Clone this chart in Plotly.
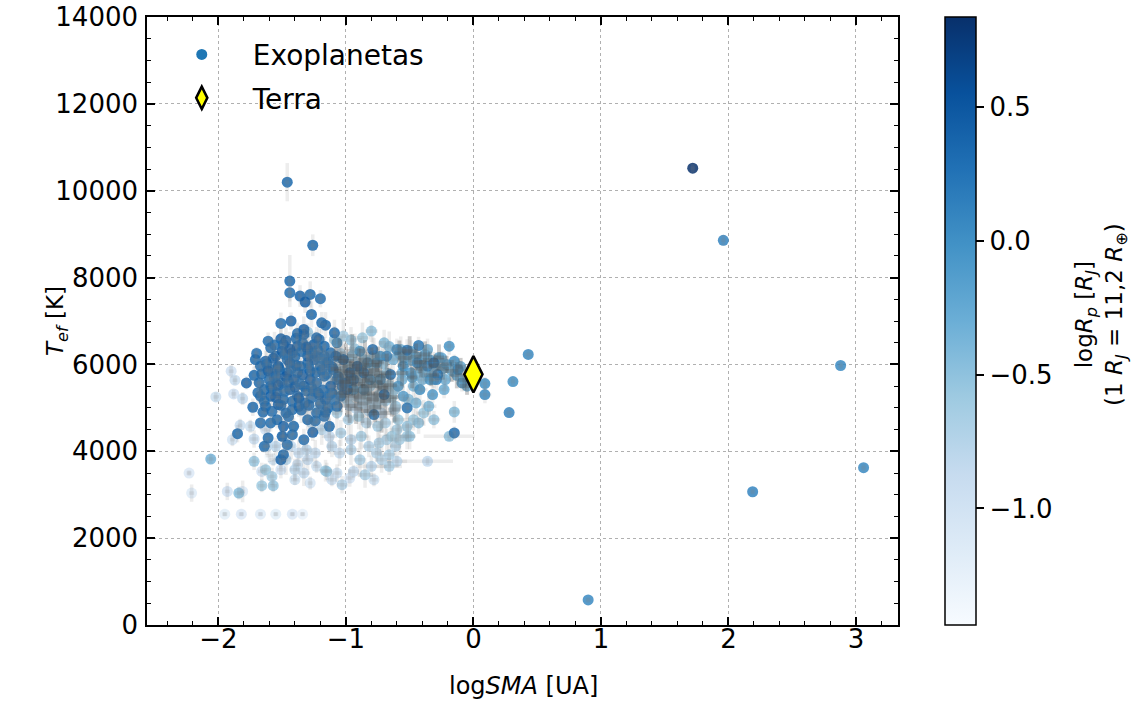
import plotly.graph_objects as go
from plotly.colors import sequential

# ---------------- data ----------------
# very light points (small planets)
vl_sma = [-0.36,-0.78,-0.97,-1.11,-1.28,-1.40,-1.51,-1.38,-1.30,-1.23,
          -1.07,-0.94,-1.93,-1.81,-2.23,-2.21,-1.95,-1.82,-1.67,-1.55,
          -1.42,-1.34,-2.02,-1.90,-1.87,-1.88,-1.81,-1.83,-1.89,-1.75,
          -1.72,-1.63,-1.57,-1.66,-1.60]
vl_teff = [3768,3345,3384,3345,3268,3345,3576,3691,3806,3653,
           3499,3537,3076,3076,3499,3037,2553,2553,2553,2553,
           2553,2553,5252,5844,5637,5321,5214,4598,4268,4575,
           4283,4498,3806,3537,3900]
vl_rp = [-0.85,-0.95,-1.0,-0.9,-1.05,-0.95,-1.0,-0.9,-0.85,-0.95,
         -0.9,-0.85,-1.0,-1.1,-1.1,-1.15,-1.2,-1.1,-1.15,-1.2,
         -1.1,-1.25,-0.95,-1.0,-0.9,-1.0,-0.85,-0.9,-1.05,-0.95,
         -0.9,-1.0,-0.95,-1.0,-1.43]
vl_esma = [0.20,0.03,0.03,0.03,0.02,0.03,0.03,0.03,0.05,0.03,
           0.03,0.04,0.02,0.02,0.02,0.02,0.02,0.02,0.02,0.02,
           0.02,0.02,0.02,0.02,0.02,0.02,0.02,0.02,0.02,0.02,
           0.03,0.03,0.03,0.03,0.03]
vl_eteff = [80,150,200,150,150,120,200,150,250,150,
            200,150,200,250,60,200,50,50,50,50,
            50,50,100,150,100,100,150,150,150,150,
            200,150,150,200,150]

# light points
l_sma = [-1.30,-0.36,-0.25,-0.40,-0.23,-0.47,-0.39,-0.31,-0.47,-0.60,
         -0.68,-0.61,-0.52,-0.60,-0.66,-0.76,-0.85,-1.03,-1.16,-1.57,
         -1.66,-1.58,-1.63,-1.72,-0.19,-0.15,-2.06,-1.84,-1.15,-1.28,
         -1.21,-1.09,-1.02,-0.96,-0.87,-0.80,-0.70,-0.66,-0.57,-0.49,
         -1.04,-0.93,-0.86,-0.78,-0.71,-0.63,-0.55,-0.48,-0.39,-1.11,
         -1.01,-0.91,-0.84,-0.75,-0.70,-0.62,-0.56,-0.46,-0.38,-0.31,
         -0.22,-1.06,-0.99,-0.92,-0.82,-0.76,-0.69,-0.61,-0.51,-0.45,
         -0.35,-1.31,-1.22,-1.14,-1.07,-0.98,-0.90,-0.84,-0.75,-0.69,
         -0.59,-0.52,-0.43,-1.27,-1.19,-1.13,-1.04,-0.96,-0.88,-0.82,
         -0.74,-0.64,-0.58,-0.50,-1.11,-1.05,-0.96,-0.89,-0.80,-0.72,
         -0.66,-1.24,-1.31,-1.37,-1.47,-1.40,-1.33,-1.55,-1.49,-1.43,
         -1.62]
l_teff = [6744,6344,6152,5652,5421,5498,4883,4729,4729,4498,
          4268,4114,4345,3768,3922,3960,3460,3230,3553,3207,
          3207,3422,3576,3768,4345,4906,3822,3037,3537,6421,
          6290,6575,6652,6560,6613,6767,6498,6410,6344,6306,
          6250,6360,6100,6205,6020,6113,6152,6090,6190,5652,
          5806,5640,5498,5660,5480,5421,5652,5729,5806,5652,
          5652,5344,5191,5268,5180,5114,5191,5037,5200,5114,
          5037,5037,4960,5037,4883,4729,4806,4652,4575,4652,
          4729,4575,4652,4652,4498,4345,4422,4268,4345,4114,
          4191,4345,4268,4345,4114,3960,4037,3806,3653,3806,
          3653,3960,4037,3960,3806,3576,3499,4114,4345,4114,
          4114]
l_rp = [-0.55,-0.3,-0.25,-0.35,-0.3,-0.4,-0.6,-0.55,-0.6,-0.65,
        -0.7,-0.75,-0.6,-0.8,-0.7,-0.75,-0.7,-0.75,-0.6,-0.55,
        -0.6,-0.65,-0.6,-0.55,-0.5,-0.45,-0.35,-0.45,-0.55,-0.7,
        -0.75,-0.6,-0.65,-0.55,-0.6,-0.5,-0.45,-0.4,-0.35,-0.3,
        -0.7,-0.55,-0.6,-0.5,-0.5,-0.35,-0.4,-0.3,-0.3,-0.75,
        -0.6,-0.7,-0.55,-0.6,-0.45,-0.5,-0.35,-0.4,-0.3,-0.25,
        -0.3,-0.75,-0.65,-0.7,-0.6,-0.65,-0.5,-0.55,-0.45,-0.4,
        -0.4,-0.8,-0.7,-0.75,-0.65,-0.7,-0.6,-0.75,-0.65,-0.7,
        -0.6,-0.55,-0.5,-0.8,-0.75,-0.85,-0.7,-0.8,-0.65,-0.75,
        -0.7,-0.6,-0.65,-0.55,-0.8,-0.85,-0.75,-0.7,-0.8,-0.75,
        -0.7,-0.85,-0.8,-0.85,-0.75,-0.8,-0.85,-0.8,-0.75,-0.85,
        -0.8]
l_esma = [0.03,0.04,0.05,0.04,0.03,0.05,0.06,0.05,0.08,0.06,
          0.05,0.04,0.06,0.08,0.05,0.04,0.06,0.04,0.05,0.03,
          0.03,0.03,0.03,0.03,0.20,0.04,0.03,0.03,0.04,0.03,
          0.04,0.03,0.05,0.04,0.06,0.05,0.04,0.05,0.06,0.05,
          0.04,0.06,0.05,0.04,0.05,0.06,0.04,0.05,0.04,0.04,
          0.05,0.06,0.04,0.05,0.06,0.05,0.04,0.06,0.05,0.04,
          0.10,0.05,0.04,0.06,0.05,0.04,0.06,0.05,0.08,0.05,
          0.06,0.04,0.05,0.06,0.04,0.05,0.06,0.05,0.04,0.06,
          0.05,0.06,0.05,0.04,0.05,0.06,0.04,0.05,0.06,0.05,
          0.04,0.10,0.06,0.05,0.04,0.05,0.06,0.05,0.12,0.05,
          0.10,0.04,0.05,0.04,0.03,0.04,0.05,0.03,0.04,0.03,
          0.03]
l_eteff = [200,250,150,300,200,250,300,200,250,300,
           250,200,300,150,250,200,300,200,250,150,
           150,200,150,200,100,250,100,150,200,300,
           350,300,400,300,350,250,300,350,300,250,
           400,350,300,400,350,300,250,300,250,350,
           400,350,300,400,350,300,250,200,250,200,
           200,350,400,300,350,400,300,350,250,300,
           250,400,350,300,400,350,300,400,350,300,
           350,300,250,300,350,400,300,350,300,250,
           300,250,350,300,250,300,350,400,250,300,
           200,300,250,300,350,250,300,200,250,300,
           200]

# more light/grey-ish points in the crowded middle of the cloud
l2_sma = [-1.05,-1.00,-0.95,-0.90,-0.85,-0.80,-0.75,-1.08,-1.03,-0.98,
          -0.93,-0.88,-0.83,-0.78,-0.73,-0.68,-1.01,-0.96,-0.91,-0.86,
          -0.81,-0.76,-0.71,-0.66,-1.04,-0.99,-0.94,-0.89,-0.84,-0.79,
          -0.74,-0.69,-0.64,-0.97,-0.92,-0.87,-0.82,-0.77,-0.72,-0.62,
          -0.58,-0.54,-0.50,-0.45,-0.42,-0.38,-0.34,-0.30,-0.27,-0.24,
          -0.21,-0.17,-0.13,-0.10,-0.07,-0.05,-0.56,-0.48,-0.41,-0.33]
l2_teff = [6150,6080,6200,6020,6110,5990,6060,5900,5850,5950,
           5820,5910,5780,5870,5740,5800,5600,5680,5550,5630,
           5500,5580,5460,5520,5350,5280,5400,5240,5330,5200,
           5290,5160,5250,5050,4980,5100,4930,5020,4880,4960,
           6250,6150,6300,6180,6050,6230,6100,5980,6160,5900,
           6000,5850,5750,5950,5650,5500,5800,5700,5900,5750]
l2_rp = [-0.55,-0.6,-0.5,-0.65,-0.55,-0.6,-0.5,-0.6,-0.65,-0.55,
         -0.6,-0.5,-0.65,-0.55,-0.6,-0.5,-0.65,-0.6,-0.7,-0.55,
         -0.65,-0.6,-0.55,-0.6,-0.7,-0.75,-0.65,-0.7,-0.6,-0.75,
         -0.65,-0.7,-0.6,-0.75,-0.8,-0.7,-0.75,-0.7,-0.8,-0.7,
         -0.3,-0.25,-0.35,-0.2,-0.3,-0.25,-0.15,-0.3,-0.2,-0.25,
         -0.15,-0.3,-0.2,-0.25,-0.35,-0.3,-0.35,-0.2,-0.3,-0.25]
l2_esma = [0.05,0.06,0.04,0.08,0.05,0.06,0.05,0.04,0.06,0.05,
           0.07,0.05,0.06,0.04,0.05,0.06,0.05,0.04,0.06,0.05,
           0.07,0.05,0.04,0.06,0.05,0.06,0.04,0.05,0.07,0.05,
           0.06,0.04,0.05,0.06,0.05,0.04,0.06,0.05,0.08,0.05,
           0.04,0.05,0.06,0.04,0.05,0.04,0.06,0.05,0.04,0.05,
           0.04,0.05,0.06,0.04,0.05,0.06,0.05,0.04,0.05,0.06]
l2_eteff = [450,400,500,350,450,400,350,500,450,400,
            350,450,500,400,350,450,500,400,450,350,
            400,450,350,400,450,500,400,350,450,400,
            350,400,450,400,350,450,400,350,450,300,
            300,250,350,300,250,300,200,250,300,250,
            200,250,300,200,250,200,300,250,200,250]

# medium points
m_sma = [-0.19,-0.15,0.09,0.09,-0.09,-0.12,-0.29,-0.32,-0.60,-0.81,
         -0.73,-0.68,-0.55,-0.49,-0.44,-0.36,-0.34,-0.42,-0.59,-0.55,
         -0.83,-0.76,-0.73,-0.89,-1.07,-0.94,-0.86,
         1.96,2.88,3.06,2.19,0.90,0.43,0.31,0.28]
m_teff = [6421,6075,5306,5560,5575,5883,5652,5306,6344,5652,
          5652,6190,5960,5806,6037,5960,5652,5421,5498,5268,
          6036,6036,6190,6306,6498,5421,5421,
          8859,5975,3622,3068,577,6229,5606,4891]
m_rp = [-0.05,0.0,0.05,0.0,-0.05,0.05,0.1,-0.1,0.05,-0.1,
        -0.05,0.1,0.0,-0.1,0.05,0.1,-0.05,0.0,-0.1,-0.15,
        -0.05,-0.1,0.0,-0.05,0.05,-0.1,-0.15,
        0.1,0.05,0.05,0.1,0.05,0.05,0.0,0.1]
m_esma = [0.03,0.04,0.05,0.03,0.04,0.05,0.04,0.03,0.05,0.06,
          0.04,0.05,0.04,0.05,0.04,0.05,0.04,0.06,0.05,0.04,
          0.05,0.04,0.05,0.06,0.04,0.05,0.04,
          0.02,0.02,0.02,0.02,0.02,0.03,0.03,0.03]
m_eteff = [200,150,200,150,200,150,250,200,250,300,
           250,300,250,200,250,200,150,250,300,250,
           300,250,350,300,250,300,250,
           120,80,80,60,60,100,100,100]

# dark points (large planets)
d_sma = [-1.44,-1.44,-1.36,-1.28,-1.20,-1.32,-1.27,-1.51,-1.43,-1.16,
         -1.38,-1.33,-1.09,-1.61,-1.51,-1.59,-1.70,-1.71,-1.78,-1.73,
         -1.67,-1.85,-1.64,-1.51,-1.49,-1.46,-1.42,-1.26,-1.17,-1.13,
         -0.78,-0.70,-0.52,-0.79,-0.65,-0.43,-0.31,-0.28,-0.15,-0.52,
         -1.67,-1.63,-1.59,-1.55,-1.50,-1.46,-1.42,-1.38,-1.34,-1.30,
         -1.25,-1.21,-1.17,-1.12,-1.60,-1.55,-1.50,-1.46,-1.41,-1.36,
         -1.30,-1.25,-1.20,-1.15,-1.10,-1.64,-1.59,-1.54,-1.49,-1.44,
         -1.38,-1.33,-1.28,-1.23,-1.17,-1.12,-1.07,-1.63,-1.58,-1.53,
         -1.47,-1.42,-1.37,-1.32,-1.27,-1.21,-1.16,-1.11,-1.04,-0.99,
         -0.94,-0.91,-1.02,-0.97,-0.86,-1.07,-1.54,-1.49,-1.59,-1.30,
         -1.23,-1.41,-1.50,-1.33,-1.61,-1.44,-1.38,-1.28,-1.23,-1.53,
         -1.49,-1.17,-1.08,-1.30,-1.59,-1.67,-1.02,-1.19,-1.33,-1.23,
         -1.46,-1.26,1.72]
d_teff = [7920,7651,7574,7613,7513,7436,7152,6944,6998,6905,
          6713,6690,6729,6536,6590,6383,6252,6113,5575,5014,
          4652,4406,4114,3806,3922,4152,4383,4437,4806,4575,
          4845,5306,4998,6344,5767,6436,6037,5767,4422,6329,
          5960,6075,5883,6190,6306,6113,6267,6421,6498,6344,
          6459,6575,6421,6267,5652,5729,5575,5806,5652,5960,
          6037,6113,5960,6037,5883,5421,5268,5344,5191,5421,
          5268,5498,5652,5575,5729,5498,5652,5037,4921,5075,
          4883,4960,5037,5114,5229,5306,5191,5344,5268,5421,
          5652,5960,6113,5806,5806,5037,4729,4575,4652,4729,
          4883,4575,4345,4268,4306,6037,5806,5844,6190,5960,
          6459,6190,6190,6190,5498,5268,5575,6959,6806,6613,
          10197,8744,10520]
d_rp = [0.35,0.3,0.4,0.35,0.3,0.45,0.35,0.3,0.4,0.35,
        0.3,0.4,0.35,0.3,0.4,0.35,0.3,0.35,0.4,0.35,
        0.3,0.35,0.3,0.4,0.35,0.3,0.35,0.4,0.3,0.35,
        0.25,0.3,0.25,0.3,0.25,0.2,0.25,0.2,0.3,0.25,
        0.35,0.4,0.3,0.35,0.45,0.3,0.35,0.4,0.3,0.35,
        0.4,0.3,0.35,0.3,0.35,0.4,0.3,0.35,0.45,0.3,
        0.35,0.4,0.3,0.35,0.3,0.35,0.4,0.3,0.35,0.4,
        0.3,0.35,0.45,0.3,0.35,0.4,0.3,0.35,0.3,0.4,
        0.35,0.3,0.4,0.35,0.3,0.35,0.4,0.3,0.25,0.3,
        0.25,0.3,0.35,0.3,0.25,0.3,0.35,0.4,0.3,0.35,
        0.3,0.35,0.4,0.3,0.35,0.4,0.3,0.35,0.3,0.4,
        0.35,0.3,0.35,0.4,0.3,0.35,0.3,0.35,0.4,0.35,
        0.35,0.35,0.83]
d_esma = [0.03,0.03,0.02,0.03,0.04,0.03,0.02,0.03,0.03,0.04,
          0.03,0.02,0.03,0.03,0.04,0.03,0.02,0.03,0.03,0.02,
          0.03,0.02,0.03,0.03,0.02,0.03,0.04,0.03,0.03,0.04,
          0.04,0.05,0.04,0.05,0.04,0.03,0.04,0.03,0.04,0.05,
          0.03,0.02,0.03,0.04,0.03,0.02,0.03,0.04,0.03,0.03,
          0.04,0.03,0.02,0.04,0.03,0.03,0.04,0.02,0.03,0.04,
          0.03,0.04,0.03,0.02,0.04,0.03,0.03,0.02,0.04,0.03,
          0.03,0.04,0.02,0.03,0.04,0.03,0.04,0.03,0.02,0.03,
          0.04,0.03,0.02,0.03,0.04,0.03,0.04,0.03,0.04,0.03,
          0.04,0.03,0.04,0.05,0.04,0.03,0.03,0.02,0.03,0.04,
          0.03,0.03,0.02,0.04,0.03,0.03,0.04,0.03,0.02,0.03,
          0.03,0.04,0.03,0.04,0.02,0.03,0.04,0.03,0.03,0.03,
          0.03,0.03,0.02]
d_eteff = [600,200,250,300,200,250,300,250,200,300,
           250,200,300,200,250,200,150,200,150,200,
           150,200,150,200,150,200,150,200,250,200,
           250,300,250,300,250,200,250,200,150,250,
           200,250,200,300,250,200,300,250,200,250,
           300,250,200,300,200,250,200,300,250,200,
           300,250,350,300,250,200,250,300,250,200,
           300,250,350,300,250,300,250,200,250,200,
           250,300,250,300,350,300,250,300,250,300,
           350,300,350,300,250,300,200,250,200,250,
           250,200,200,250,200,300,250,300,250,200,
           250,300,250,300,200,250,300,250,300,250,
           440,250,100]

# more dark points filling the crowded core of the cloud
d2_sma = [-1.62,-1.57,-1.53,-1.48,-1.44,-1.40,-1.35,-1.31,-1.26,-1.22,
          -1.18,-1.14,-1.66,-1.61,-1.56,-1.52,-1.47,-1.43,-1.39,-1.34,
          -1.29,-1.24,-1.19,-1.15,-1.11,-1.06,-1.58,-1.53,-1.48,-1.45,
          -1.40,-1.36,-1.31,-1.27,-1.22,-1.18,-1.13,-1.68,-1.64,-1.55,
          -1.51,-1.42,-1.37,-1.29,-1.25,-1.20,-1.14,-1.09,-1.03,-0.98,
          -1.72,-1.69,-1.65,-1.45,-1.35,-1.24,-1.16,-1.47,-1.39,-1.56]
d2_teff = [6010,6140,5930,6230,6350,6180,6300,6400,6250,6330,
           6120,6050,5780,5850,5690,5880,5720,5900,5980,5760,
           5930,5810,5870,5780,5950,5720,5450,5520,5380,5600,
           5480,5560,5390,5470,5350,5410,5300,5580,5150,5240,
           5060,5150,5230,5060,5380,5100,5000,5180,5500,5600,
           5750,5350,4900,4800,4950,4700,4900,6550,6600,6450]
d2_rp = [0.3,0.4,0.35,0.3,0.45,0.35,0.3,0.4,0.35,0.3,
         0.25,0.3,0.35,0.4,0.3,0.35,0.45,0.3,0.35,0.4,
         0.3,0.35,0.3,0.25,0.3,0.25,0.35,0.4,0.3,0.35,
         0.4,0.3,0.35,0.3,0.35,0.3,0.25,0.35,0.3,0.4,
         0.35,0.3,0.4,0.35,0.3,0.35,0.3,0.25,0.3,0.25,
         0.35,0.3,0.35,0.3,0.35,0.3,0.35,0.4,0.35,0.3]
d2_esma = [0.03,0.02,0.03,0.04,0.03,0.02,0.03,0.04,0.03,0.03,
           0.04,0.03,0.02,0.03,0.04,0.03,0.02,0.03,0.04,0.03,
           0.03,0.04,0.03,0.02,0.04,0.03,0.03,0.02,0.04,0.03,
           0.03,0.04,0.03,0.03,0.02,0.04,0.03,0.02,0.03,0.04,
           0.03,0.04,0.03,0.02,0.03,0.04,0.03,0.04,0.03,0.04,
           0.02,0.03,0.03,0.04,0.03,0.04,0.03,0.03,0.02,0.03]
d2_eteff = [300,350,250,300,400,300,350,300,250,350,
            300,250,300,350,250,300,350,300,400,250,
            300,350,300,250,350,300,250,300,350,300,
            250,300,350,250,300,350,250,300,250,300,
            350,300,250,300,350,250,300,350,300,250,
            200,250,200,250,300,250,200,300,250,300]

earth_sma = [0.0]
earth_teff = [5772]

x_ticks = [-2, -1, 0, 1, 2, 3]
x_tick_text = ["\u22122", "\u22121", "0", "1", "2", "3"]
y_ticks = [0, 2000, 4000, 6000, 8000, 10000, 12000, 14000]
y_tick_text = ["0", "2000", "4000", "6000", "8000", "10000", "12000", "14000"]
cb_ticks = [-1.0, -0.5, 0.0, 0.5]
cb_tick_text = ["\u22121.0", "\u22120.5", "0.0", "0.5"]

groups = [(vl_sma, vl_teff, vl_rp, vl_esma, vl_eteff),
          (l_sma, l_teff, l_rp, l_esma, l_eteff),
          (l2_sma, l2_teff, l2_rp, l2_esma, l2_eteff),
          (m_sma, m_teff, m_rp, m_esma, m_eteff),
          (d_sma, d_teff, d_rp, d_esma, d_eteff),
          (d2_sma, d2_teff, d2_rp, d2_esma, d2_eteff)]
for g in groups:
    assert len(set(len(a) for a in g)) == 1, [len(a) for a in g]

log_sma = sum([g[0] for g in groups], [])
teff = sum([g[1] for g in groups], [])
log_rp = sum([g[2] for g in groups], [])
err_sma = sum([g[3] for g in groups], [])
err_teff = sum([g[4] for g in groups], [])

FONT = "DejaVu Sans"
blues = sequential.Blues
PX_L, PX_R, PX_T, PX_B = 147, 898, 17, 625
PLOT_W = PX_R - PX_L
PLOT_H = PX_B - PX_T

fig = go.Figure()

# exoplanets
fig.add_trace(go.Scatter(
    x=log_sma, y=teff, mode="markers",
    marker=dict(size=11, color=log_rp, coloraxis="coloraxis", opacity=0.85, line=dict(width=0)),
    showlegend=False))

# error bars drawn over the points (as in the reference)
ecol = "rgba(128,128,128,0.14)"
fig.add_trace(go.Scatter(
    x=log_sma, y=teff, mode="markers",
    marker=dict(size=1, opacity=0),
    error_x=dict(type="data", array=err_sma, color=ecol, thickness=3.5, width=0),
    error_y=dict(type="data", array=err_teff, color=ecol, thickness=3.5, width=0),
    showlegend=False, hoverinfo="skip"))
# extra haze of error bars in the crowded core
fig.add_trace(go.Scatter(
    x=l2_sma, y=l2_teff, mode="markers",
    marker=dict(size=1, opacity=0),
    error_x=dict(type="data", array=l2_esma, color="rgba(70,70,70,0.2)", thickness=4, width=0),
    error_y=dict(type="data", array=l2_eteff, color="rgba(70,70,70,0.2)", thickness=4, width=0),
    showlegend=False, hoverinfo="skip"))

# legend proxy for exoplanets
fig.add_trace(go.Scatter(
    x=[None], y=[None], mode="markers", name="Exoplanetas", legendgroup="a",
    marker=dict(size=11, color="#1f77b4")))

# Earth
fig.add_trace(go.Scatter(
    x=earth_sma, y=earth_teff, mode="markers", name="Terra", legendgroup="b",
    marker=dict(symbol="diamond-tall", size=26, color="#ffff00", line=dict(color="black", width=2.5))))

axis_common = dict(
    showline=True, linecolor="black", linewidth=1.5, mirror="allticks",
    ticks="inside", ticklen=8, tickwidth=1.5, tickcolor="black",
    showgrid=True, gridcolor="#b0b0b0", gridwidth=1, griddash="dot",
    zeroline=False, automargin=False,
    tickfont=dict(family=FONT, size=26, color="black"),
)

fig.update_layout(
    width=1135, height=702,
    margin=dict(l=PX_L, r=1135 - PX_R, t=PX_T, b=702 - PX_B, autoexpand=False),
    paper_bgcolor="white", plot_bgcolor="white",
    font=dict(family=FONT, color="black"),
    xaxis=dict(range=[-2.56, 3.33], tickvals=x_ticks, ticktext=x_tick_text,
               minor=dict(dtick=0.2, tick0=0, ticks="inside", ticklen=4, tickwidth=1.2, tickcolor="black", showgrid=False),
               ticklabelstandoff=-10,
               **axis_common),
    yaxis=dict(range=[0, 14000], tickvals=y_ticks, ticktext=y_tick_text,
               minor=dict(dtick=500, tick0=0, ticks="inside", ticklen=4, tickwidth=1.2, tickcolor="black", showgrid=False),
               ticklabelstandoff=2,
               **axis_common),
    coloraxis=dict(
        colorscale=blues, cmin=-1.435, cmax=0.835,
        colorbar=dict(
            x=(945 - PX_L) / PLOT_W, xanchor="left", xpad=0,
            y=0.5, yanchor="middle", ypad=0,
            len=1, lenmode="fraction", thickness=31,
            outlinewidth=1.5, outlinecolor="black",
            tickvals=cb_ticks, ticktext=cb_tick_text,
            ticks="outside", ticklen=8, tickwidth=1.5, tickcolor="black",
            tickfont=dict(family=FONT, size=26, color="black"),
            title=dict(text=""),
        ),
    ),
    legend=dict(x=0.005, y=0.979, xanchor="left", yanchor="top",
                bgcolor="rgba(0,0,0,0)", borderwidth=0,
                font=dict(family=FONT, size=28, color="black"),
                itemwidth=92, traceorder="grouped", tracegroupgap=4),
    annotations=[
        dict(text="log<i>SMA</i> [UA]",
             xref="paper", yref="paper", x=(523 - PX_L) / PLOT_W, y=-(686 - PX_B) / PLOT_H,
             xanchor="center", yanchor="middle", showarrow=False,
             font=dict(family=FONT, size=24, color="black")),
        dict(text="<i>T<sub>ef</sub></i> [K]",
             xref="paper", yref="paper", x=(57 - PX_L) / PLOT_W, y=0.5,
             xanchor="center", yanchor="middle", textangle=-90, showarrow=False,
             font=dict(family=FONT, size=23, color="black")),
        dict(text="log<i>R<sub>p</sub></i> [<i>R<sub>J</sub></i>]<br>(1 <i>R<sub>J</sub></i> = 11,2 <i>R</i><sub>\u2295</sub>)",
             xref="paper", yref="paper", x=(1101 - PX_L) / PLOT_W, y=0.51,
             xanchor="center", yanchor="middle", textangle=-90, showarrow=False,
             font=dict(family=FONT, size=23, color="black")),
    ],
)

fig.write_html("out.html")
